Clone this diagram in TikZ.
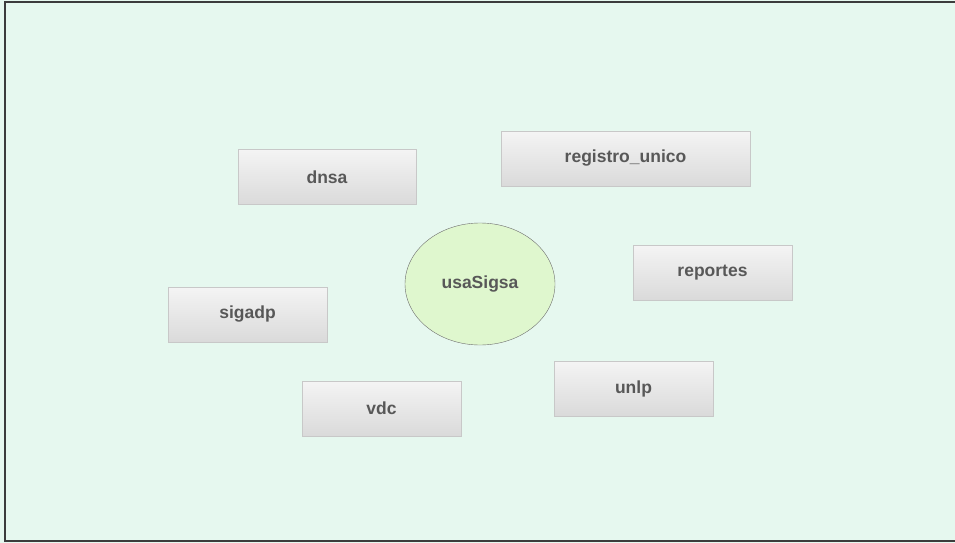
\documentclass[tikz,border=0pt]{standalone}
\usepackage{fontspec}
\setmainfont{Liberation Sans}
\usepackage{tikz}
\usetikzlibrary{shapes.geometric}
\definecolor{Mint}{RGB}{230,248,239}
\definecolor{FrameGray}{RGB}{60,60,60}
\definecolor{BoxTop}{RGB}{244,244,244}
\definecolor{BoxBottom}{RGB}{218,218,218}
\definecolor{BoxRule}{RGB}{200,200,200}
\definecolor{Label}{RGB}{88,88,88}
\definecolor{Lime}{RGB}{223,247,206}
\definecolor{OvalRule}{RGB}{110,110,110}

\begin{document}
\begin{tikzpicture}[x=1pt,y=-1pt,
  every node/.style={inner sep=0pt,outer sep=0pt,text=Label,
                     font=\fontsize{17.5}{20}\selectfont\bfseries},
  modbox/.style={draw=BoxRule,top color=BoxTop,bottom color=BoxBottom,
                 minimum width=159pt,minimum height=55pt},
  hub/.style={ellipse,draw=OvalRule,fill=Lime,
              minimum width=150pt,minimum height=122pt}]
  % canvas and frame
  \fill[Mint] (0,0) rectangle (955,543);
  \useasboundingbox (0,0) rectangle (955,543);
  \draw[FrameGray,line width=1.2pt] (955,2) -- (5,2) -- (5,541) -- (955,541);
  % modules
  \node[modbox,minimum width=178pt] (dnsa) at (327,177) {dnsa};
  \node[modbox,minimum width=249pt] (registro) at (625.5,158.5) {registro\_unico};
  \node[modbox] (reportes) at (712.5,272.5) {reportes};
  \node[modbox] (sigadp) at (247.5,314.5) {sigadp};
  \node[modbox] (vdc) at (381.5,408.5) {vdc};
  \node[modbox] (unlp) at (633.5,388.5) {unlp};
  % central system
  \node[hub] (usasigsa) at (480,284) {usaSigsa};
\end{tikzpicture}
\end{document}
